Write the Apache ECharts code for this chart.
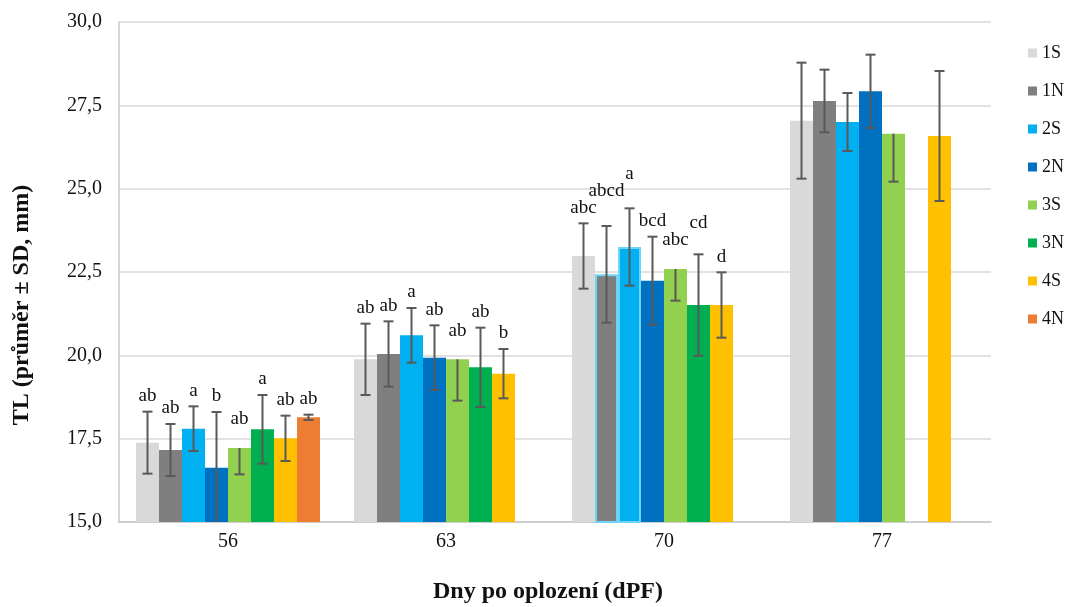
<!DOCTYPE html>
<html>
<head>
<meta charset="utf-8">
<title>TL podle dnů po oplození</title>
<script src="https://cdn.jsdelivr.net/npm/echarts@6/dist/echarts.min.js"></script>
<style>
  html, body { margin: 0; padding: 0; background: #fff; }
  #chart { width: 1067px; height: 607px; }
</style>
</head>
<body>
<div id="chart"></div>
<script>
// Days post fertilisation
const categories = ['56', '63', '70', '77'];
const seriesNames = ['1S', '1N', '2S', '2N', '3S', '3N', '4S', '4N'];

// Mean total length (mm) per group and day
const mean1S = [17.38, 19.88, 22.98, 27.04];
const mean1N = [17.16, 20.04, 22.43, 27.63];
const mean2S = [17.80, 20.60, 23.25, 27.00];
const mean2N = [16.63, 19.93, 22.24, 27.92];
const mean3S = [17.22, 19.88, 22.59, 26.65];
const mean3N = [17.78, 19.64, 21.51, null];
const mean4S = [17.51, 19.45, 21.51, 26.58];
const mean4N = [18.14, null, null, null];

// Standard deviations
const sd1S = [0.93, 1.07, 0.98, 1.74];
const sd1N = [0.78, 0.98, 1.45, 0.94];
const sd2S = [0.67, 0.82, 1.16, 0.87];
const sd2N = [1.67, 0.97, 1.32, 1.10];
const sd3S = [0.79, 1.24, 0.95, 1.44];
const sd3N = [1.03, 1.19, 1.52, null];
const sd4S = [0.68, 0.74, 0.98, 1.95];
const sd4N = [0.08, null, null, null];

// Significance letters
const letters1S = ['ab', 'ab', 'abc', ''];
const letters1N = ['ab', 'ab', 'abcd', ''];
const letters2S = ['a', 'a', 'a', ''];
const letters2N = ['b', 'ab', 'bcd', ''];
const letters3S = ['ab', 'ab', 'abc', ''];
const letters3N = ['a', 'ab', 'cd', ''];
const letters4S = ['ab', 'b', 'd', ''];
const letters4N = ['ab', '', '', ''];

const means = [mean1S, mean1N, mean2S, mean2N, mean3S, mean3N, mean4S, mean4N];
const sds = [sd1S, sd1N, sd2S, sd2N, sd3S, sd3N, sd4S, sd4N];
const letters = [letters1S, letters1N, letters2S, letters2N, letters3S, letters3N, letters4S, letters4N];

const colors = ['#d9d9d9', '#7f7f7f', '#00b0f0', '#0070c0', '#92d050', '#00b050', '#ffc000', '#ed7d31'];
// 3S carries only the lower whisker
const errorDir = ['both', 'both', 'both', 'both', 'minus', 'both', 'both', 'both'];

const FONT = '"Liberation Serif", "Times New Roman", serif';
const LABEL_SIZE = 19;
const CAT_GAP = 0.156;
const Y_MIN = 15;

const measureCtx = document.createElement('canvas').getContext('2d');
function textWidth(t) {
  measureCtx.font = LABEL_SIZE + 'px ' + FONT;
  return measureCtx.measureText(t).width;
}

function barCenterX(api, c, s) {
  const band = api.size([1, 0])[0];
  const barW = band * (1 - CAT_GAP) / seriesNames.length;
  return api.coord([c, Y_MIN])[0] + (s - (seriesNames.length - 1) / 2) * barW;
}

// Letter position above the whisker, lifted when it would collide with its left neighbour
function labelBox(api, c, s) {
  const t = letters[s][c];
  if (!t || means[s][c] == null) return null;
  const m = means[s][c], d = sds[s][c];
  const both = errorDir[s] === 'both';
  const top = both ? m + d : m;
  const x = barCenterX(api, c, s);
  const w = textWidth(t);
  let bottom = api.coord([c, top])[1] - (both ? 6 : 19);
  for (let p = s - 1; p >= 0; p--) {
    const prev = labelBox(api, c, p);
    if (prev) {
      const h = LABEL_SIZE * 0.8;
      const overlapX = x - w / 2 < prev.x + prev.w / 2 + 2 && x + w / 2 > prev.x - prev.w / 2 - 2;
      const overlapY = bottom > prev.bottom - h && bottom - h < prev.bottom;
      if (overlapX && overlapY) bottom = prev.bottom - 17;
      break;
    }
  }
  return { x: x, bottom: bottom, w: w, text: t };
}

const barSeries = seriesNames.map((name, s) => ({
  name: name,
  type: 'bar',
  barGap: '0%',
  barCategoryGap: (CAT_GAP * 100) + '%',
  itemStyle: { color: colors[s] },
  emphasis: { disabled: true },
  data: means[s].map((v, c) => {
    // the 1N and 2S bars at 70 dPF are drawn with a light blue outline
    if (categories[c] === '70' && (name === '1N' || name === '2S')) {
      return { value: v, itemStyle: { borderColor: '#6fd4fa', borderWidth: 2 } };
    }
    return v;
  })
}));

const errorData = [];
seriesNames.forEach((name, s) => {
  means[s].forEach((v, c) => {
    if (v != null) errorData.push([c, v, sds[s][c], s]);
  });
});

const errorSeries = {
  type: 'custom',
  z: 5,
  silent: true,
  encode: { x: 0, y: 1 },
  data: errorData,
  renderItem: function (params, api) {
    const c = api.value(0), m = api.value(1), d = api.value(2), s = api.value(3);
    const x = barCenterX(api, c, s);
    const yHi = api.coord([c, errorDir[s] === 'both' ? m + d : m])[1];
    const yLo = api.coord([c, Math.max(m - d, Y_MIN)])[1];
    const stroke = { stroke: '#595959', lineWidth: 2 };
    const cap = 5;
    const children = [
      { type: 'line', shape: { x1: x, y1: yHi, x2: x, y2: yLo }, style: stroke }
    ];
    if (errorDir[s] === 'both') {
      children.push({ type: 'line', shape: { x1: x - cap, y1: yHi, x2: x + cap, y2: yHi }, style: stroke });
    }
    if (m - d > Y_MIN) {
      children.push({ type: 'line', shape: { x1: x - cap, y1: yLo, x2: x + cap, y2: yLo }, style: stroke });
    }
    const lb = labelBox(api, c, s);
    if (lb) {
      children.push({
        type: 'text',
        style: {
          text: lb.text, x: lb.x, y: lb.bottom,
          align: 'center', verticalAlign: 'bottom',
          fontFamily: FONT, fontSize: LABEL_SIZE, fill: '#111'
        }
      });
    }
    return { type: 'group', children: children };
  }
};

const chart = echarts.init(document.getElementById('chart'), null, { renderer: 'canvas' });
chart.setOption({
  animation: false,
  backgroundColor: '#ffffff',
  color: colors,
  grid: { left: 119, right: 76, top: 22, bottom: 85 },
  legend: {
    data: seriesNames,
    orient: 'vertical',
    left: 1028,
    top: 44,
    padding: 0,
    icon: 'rect',
    itemWidth: 9,
    itemHeight: 9,
    itemGap: 20,
    selectedMode: false,
    textStyle: { fontFamily: FONT, fontSize: 18, lineHeight: 18, color: '#111' }
  },
  xAxis: {
    type: 'category',
    data: categories,
    axisLine: { lineStyle: { color: '#c8c8c8', width: 1.5 } },
    axisTick: { show: false },
    axisLabel: { fontFamily: FONT, fontSize: 20, color: '#111', margin: 10 }
  },
  yAxis: {
    type: 'value',
    min: 15,
    max: 30,
    interval: 2.5,
    axisLine: { show: true, lineStyle: { color: '#c8c8c8', width: 1.5 } },
    axisTick: { show: false },
    axisLabel: {
      fontFamily: FONT, fontSize: 20, color: '#111', margin: 17,
      formatter: v => v.toFixed(1).replace('.', ',')
    },
    splitLine: { lineStyle: { color: '#d9d9d9', width: 1.5 } }
  },
  graphic: [
    {
      type: 'text', x: 548, y: 592, silent: true,
      style: {
        text: 'Dny po oplození (dPF)', align: 'center', verticalAlign: 'middle',
        fontFamily: FONT, fontSize: 24, fontWeight: 'bold', fill: '#111'
      }
    },
    {
      type: 'text', x: 22, y: 305, rotation: Math.PI / 2, silent: true,
      style: {
        text: 'TL (průměr ± SD, mm)', align: 'center', verticalAlign: 'middle',
        fontFamily: FONT, fontSize: 24, fontWeight: 'bold', fill: '#111'
      }
    }
  ],
  series: barSeries.concat([errorSeries])
});
</script>
</body>
</html>
